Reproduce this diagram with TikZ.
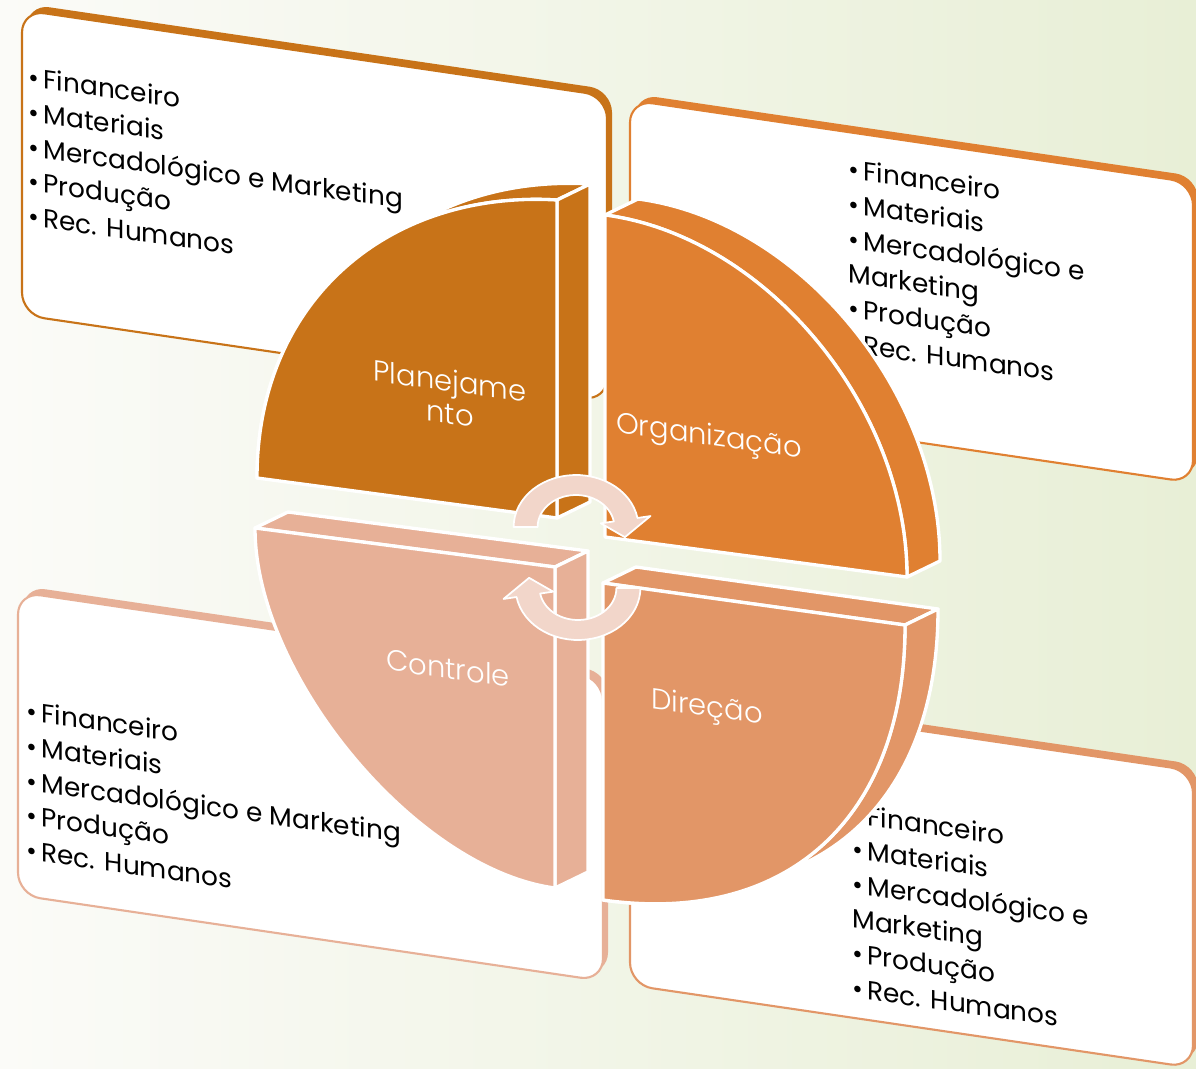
\documentclass[tikz,border=0pt]{standalone}
\usepackage{fontspec}
\setmainfont{Poppins}
\IfFontExistsTF{Poppins Light}{\newfontfamily\lightfont{Poppins Light}}{\newfontfamily\lightfont{Poppins}}
\definecolor{planC}{RGB}{200,115,24}
\definecolor{orgC}{RGB}{224,128,49}
\definecolor{dirC}{RGB}{226,150,103}
\definecolor{ctrC}{RGB}{231,176,151}
\definecolor{arrC}{RGB}{242,214,202}
\definecolor{bgA}{RGB}{251,251,248}
\definecolor{bgB}{RGB}{232,239,214}
\newcommand{\bul}{•\hspace{2.5pt}}

\begin{document}
\begin{tikzpicture}[
        x=0.02cm, y=-0.02cm,
        face/.style={draw=white, line width=1.9pt, line join=round},
        card/.style={fill=white, draw=#1, line width=1.2pt, rounded corners=0.45cm},
        cardback/.style={fill=#1, rounded corners=0.45cm},
        items/.style={anchor=north west, inner sep=0pt, align=left, yslant=-0.14,
            font=\fontsize{15}{19.8}\selectfont},
        lbl/.style={text=white, align=center, yslant=-0.14, font=\lightfont\fontsize{16.5}{18.5}\selectfont},
        ring/.style={fill=arrC, draw=white, line width=1pt, line join=round}
    ]
        % 背景
        \useasboundingbox (0,0) rectangle (1196,1068);
        \shade[left color=bgA, right color=bgB] (0,0) rectangle (1196,1068);

        % 文本卡片
        \foreach \cx/\cy/\cw/\ch/\cc in {22/10/585/305/planC, 630/100/563/300/orgC,
                                          18/592/585/303/ctrC, 630/688/563/297/dirC}{
            \fill[cardback=\cc, shift={(5,-6)}] (\cx,\cy) -- ({\cx+\cw},{\cy+0.147*\cw})
                -- ({\cx+\cw},{\cy+0.147*\cw+\ch}) -- (\cx,{\cy+\ch}) -- cycle;
            \draw[card=\cc] (\cx,\cy) -- ({\cx+\cw},{\cy+0.147*\cw})
                -- ({\cx+\cw},{\cy+0.147*\cw+\ch}) -- (\cx,{\cy+\ch}) -- cycle;
        }
        \node[items] (t1) at (28,66) {\bul Financeiro\\\bul Materiais\\\bul Mercadológico e Marketing\\\bul Produção\\\bul Rec. Humanos};
        \node[items] (t2) at (848,158) {\bul Financeiro\\\bul Materiais\\\bul Mercadológico e\\Marketing\\\bul Produção\\\bul Rec. Humanos};
        \node[items] (t3) at (26,700) {\bul Financeiro\\\bul Materiais\\\bul Mercadológico e Marketing\\\bul Produção\\\bul Rec. Humanos};
        \node[items] (t4) at (852,803) {\bul Financeiro\\\bul Materiais\\\bul Mercadológico e\\Marketing\\\bul Produção\\\bul Rec. Humanos};

        % Planejamento
        \filldraw[face, fill=planC] (257,478) .. controls (257,300) and (389,190) .. (557,200)
            -- (590,184) .. controls (422,174) and (290,284) .. (290,462) -- cycle;
        \filldraw[face, fill=planC] (557,518) -- (557,200) -- (590,184) -- (590,502) -- cycle;
        \filldraw[face, fill=planC] (557,518) -- (257,478) .. controls (257,300) and (389,190) .. (557,200) -- cycle;

        % Organização
        \filldraw[face, fill=orgC] (605,215) .. controls (765,236) and (907,406) .. (907,577)
            -- (940,561) .. controls (940,390) and (798,220) .. (638,199) -- cycle;
        \filldraw[face, fill=orgC] (605,537) -- (605,215) .. controls (765,236) and (907,406) .. (907,577) -- cycle;

        % Controle
        \filldraw[face, fill=ctrC] (255,528) -- (555,567) -- (588,551) -- (288,512) -- cycle;
        \filldraw[face, fill=ctrC] (555,567) -- (555,888) -- (588,872) -- (588,551) -- cycle;
        \filldraw[face, fill=ctrC] (555,567) -- (255,528) .. controls (255,676) and (417,870) .. (555,888) -- cycle;

        % Direção
        \filldraw[face, fill=dirC] (603,583) -- (905,625) -- (938,609) -- (636,567) -- cycle;
        \filldraw[face, fill=dirC] (905,625) .. controls (905,818) and (787,926) .. (603,900)
            -- (636,884) .. controls (820,910) and (938,802) .. (938,609) -- cycle;
        \filldraw[face, fill=dirC] (603,583) -- (905,625) .. controls (905,818) and (787,926) .. (603,900) -- cycle;

        \node[lbl] (plan) at (450,397) {Planejame\\nto};
        \node[lbl] (org) at (709,438) {Organização};
        \node[lbl] (ctr) at (448,668) {Controle};
        \node[lbl] (dir) at (707,709) {Direção};

        % 循环箭头
        \draw[ring] plot[domain=180:350, samples=30] ({576+1.2*52*cos(\x)},{527+52*sin(\x)})
            -- ({576+1.2*63*cos(350)},{527+63*sin(350)})
            -- ({576+1.2*42*cos(374)},{527+42*sin(374)})
            -- ({576+1.2*21*cos(350)},{527+21*sin(350)})
            -- plot[domain=350:180, samples=30] ({576+1.2*32*cos(\x)},{527+32*sin(\x)}) -- cycle;
        \draw[ring] plot[domain=0:170, samples=30] ({578+1.2*52*cos(\x)},{588+52*sin(\x)})
            -- ({578+1.2*63*cos(170)},{588+63*sin(170)})
            -- ({578+1.2*42*cos(194)},{588+42*sin(194)})
            -- ({578+1.2*21*cos(170)},{588+21*sin(170)})
            -- plot[domain=170:0, samples=30] ({578+1.2*32*cos(\x)},{588+32*sin(\x)}) -- cycle;
    \end{tikzpicture}
\end{document}
